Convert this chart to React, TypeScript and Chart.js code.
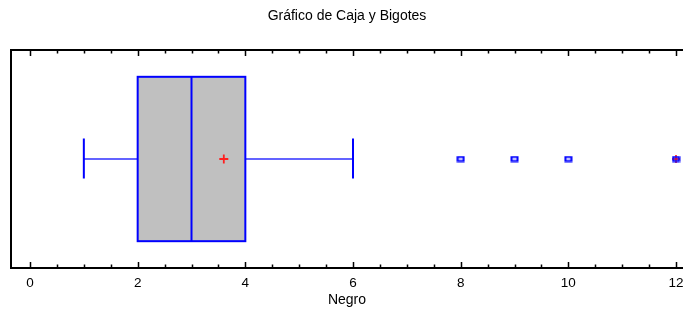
import React, { useEffect, useRef } from "react";
import { Chart, registerables } from "chart.js";

Chart.register(...registerables);

const categories = ["Negro"];
const whiskerLow = [1];
const q1 = [2];
const median = [3];
const q3 = [4];
const whiskerHigh = [6];
const means = [3.6];
const outliers = [8, 9, 10, 12];
const farOutliers = [12];
const axisMin = -0.353;
const axisMax = 12.13;
const majorStep = 2;
const minorStep = 0.5;

const BLUE = "#0000ff";

function makeRectStyle(): HTMLCanvasElement {
  const c = document.createElement("canvas");
  c.width = 9;
  c.height = 7;
  const g = c.getContext("2d")!;
  g.strokeStyle = BLUE;
  g.lineWidth = 2;
  g.strokeRect(1.5, 1.5, 6, 4);
  return c;
}

const boxPlugin = {
  id: "boxPlugin",
  beforeDatasetsDraw(chart: any) {
    const { ctx, scales } = chart;
    const x = scales.x;
    const y = scales.y;
    ctx.save();
    categories.forEach((_, i) => {
      const yc = y.getPixelForValue(0.5);
      const yTop = y.getPixelForValue(0.877);
      const yBot = y.getPixelForValue(0.123);
      const cTop = y.getPixelForValue(0.594);
      const cBot = y.getPixelForValue(0.411);
      const xq1 = x.getPixelForValue(q1[i]);
      const xq3 = x.getPixelForValue(q3[i]);
      const xm = x.getPixelForValue(median[i]);
      const xl = x.getPixelForValue(whiskerLow[i]);
      const xh = x.getPixelForValue(whiskerHigh[i]);
      ctx.strokeStyle = "#3030ff";
      ctx.lineWidth = 1.5;
      ctx.beginPath();
      ctx.moveTo(xl, yc);
      ctx.lineTo(xq1, yc);
      ctx.moveTo(xq3, yc);
      ctx.lineTo(xh, yc);
      ctx.stroke();
      ctx.strokeStyle = BLUE;
      ctx.lineWidth = 2;
      ctx.beginPath();
      ctx.moveTo(xl, cTop);
      ctx.lineTo(xl, cBot);
      ctx.moveTo(xh, cTop);
      ctx.lineTo(xh, cBot);
      ctx.stroke();
      ctx.fillStyle = "#c0c0c0";
      ctx.fillRect(xq1, yTop, xq3 - xq1, yBot - yTop);
      ctx.strokeRect(xq1, yTop, xq3 - xq1, yBot - yTop);
      ctx.beginPath();
      ctx.moveTo(xm, yTop);
      ctx.lineTo(xm, yBot);
      ctx.stroke();
    });
    ctx.restore();
  },
  afterDraw(chart: any) {
    const { ctx, chartArea, scales } = chart;
    const x = scales.x;
    ctx.save();
    ctx.strokeStyle = "#000";
    ctx.lineWidth = 2;
    ctx.beginPath();
    ctx.moveTo(chartArea.right + 10, chartArea.top);
    ctx.lineTo(chartArea.left, chartArea.top);
    ctx.lineTo(chartArea.left, chartArea.bottom);
    ctx.lineTo(chartArea.right + 10, chartArea.bottom);
    ctx.stroke();
    ctx.lineWidth = 1.5;
    ctx.beginPath();
    const start = Math.ceil(axisMin / minorStep) * minorStep;
    for (let v = start; v <= axisMax + 1e-9; v += minorStep) {
      const px = Math.round(x.getPixelForValue(v)) + 0.5;
      const major = Math.abs(v / majorStep - Math.round(v / majorStep)) < 1e-6;
      const len = major ? 6 : 3.5;
      ctx.moveTo(px, chartArea.bottom);
      ctx.lineTo(px, chartArea.bottom - len);
      ctx.moveTo(px, chartArea.top);
      ctx.lineTo(px, chartArea.top + len);
    }
    ctx.stroke();
    ctx.restore();
  },
};

export default function App() {
  const ref = useRef<HTMLCanvasElement>(null);
  useEffect(() => {
    document.body.style.margin = "0";
    const rectStyle = makeRectStyle();
    const chart = new Chart(ref.current!, {
      type: "scatter",
      data: {
        datasets: [
          {
            label: "outliers",
            data: outliers.map((v) => ({ x: v, y: 0.5 })),
            pointStyle: rectStyle as any,
            pointRadius: 4,
          },
          {
            label: "far",
            data: farOutliers.map((v) => ({ x: v, y: 0.5 })),
            pointStyle: "cross",
            pointRadius: 4,
            borderColor: "#ff0000",
            borderWidth: 1.5,
          },
          {
            label: "mean",
            data: means.map((v) => ({ x: v, y: 0.5 })),
            pointStyle: "cross",
            pointRadius: 4.5,
            borderColor: "#ff2020",
            borderWidth: 1.8,
          },
        ],
      },
      options: {
        animation: false,
        responsive: false,
        layout: { padding: { left: 11, right: 0, top: 0, bottom: 0 }, autoPadding: false },
        plugins: {
          legend: { display: false },
          tooltip: { enabled: false },
          title: {
            display: true,
            text: "Gráfico de Caja y Bigotes",
            color: "#000",
            font: { family: "Liberation Sans", size: 14, weight: "normal" },
            padding: { top: 8, bottom: 25.2 },
          },
        },
        scales: {
          x: {
            type: "linear",
            min: axisMin,
            max: axisMax,
            grid: { display: false, drawTicks: false },
            border: { display: false },
            ticks: {
              stepSize: majorStep,
              includeBounds: false,
              padding: 7,
              maxRotation: 0,
              color: "#000",
              font: { family: "Liberation Sans", size: 13.5 },
            },
            title: {
              display: true,
              text: categories[0],
              color: "#000",
              font: { family: "Liberation Sans", size: 14 },
              padding: { top: 0, bottom: 0 },
            },
            afterFit: (s: any) => {
              s.height = 41;
              s.paddingLeft = 0;
              s.paddingRight = 0;
            },
          },
          y: { display: false, min: 0, max: 1 },
        },
      },
      plugins: [boxPlugin],
    });
    return () => chart.destroy();
  }, []);
  return <canvas ref={ref} width={683} height={309} style={{ display: "block" }} />;
}
